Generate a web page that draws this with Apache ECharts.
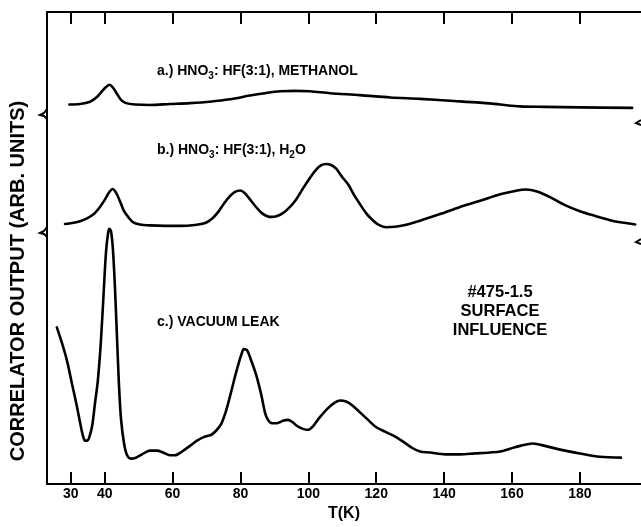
<!DOCTYPE html>
<html>
<head>
<meta charset="utf-8">
<script src="https://cdn.jsdelivr.net/npm/echarts@6/dist/echarts.min.js"></script>
<style>
html,body{margin:0;padding:0;background:#fff;}
#c{width:641px;height:527px;}
</style>
</head>
<body>
<div id="c"></div>
<script>
// Temperature tick labels (K)
var tickValues = [30, 40, 60, 80, 100, 120, 140, 160, 180];

// a.) HNO3:HF(3:1), Methanol  [T(K), arb. units]
var seriesA = [
  [29.6, 80.4], [32.7, 80.5], [35.7, 81.0], [37.7, 82.0], [39.2, 83.2],
  [40.4, 84.1], [41.4, 84.6], [42.4, 84.0], [43.6, 82.7], [44.8, 81.4],
  [46.3, 80.7], [48.9, 80.4], [53.3, 80.3], [59.2, 80.5], [65.1, 80.7],
  [71.0, 81.0], [76.9, 81.5], [82.8, 82.3], [87.2, 82.8], [91.7, 83.2],
  [96.1, 83.3], [100.5, 83.2], [106.4, 82.8], [115.2, 82.4], [124.1, 81.9],
  [132.9, 81.6], [141.7, 81.2], [150.6, 80.8], [156.5, 80.4], [162.4, 80.0],
  [169.7, 79.9], [180.0, 79.8], [195.4, 79.7]
];

// b.) HNO3:HF(3:1), H2O
var seriesB = [
  [28.3, 55.1], [30.4, 55.3], [32.7, 55.7], [34.8, 56.3], [36.8, 57.2],
  [38.6, 58.7], [40.1, 60.3], [41.3, 61.8], [42.3, 62.5], [43.3, 61.8],
  [44.5, 59.9], [45.7, 57.8], [46.9, 56.6], [48.3, 55.5], [50.4, 55.0],
  [53.3, 54.8], [57.8, 54.7], [62.2, 54.7], [66.6, 54.9], [69.6, 55.3],
  [71.6, 56.2], [73.4, 57.6], [75.2, 59.5], [76.9, 61.0], [78.4, 61.9],
  [79.9, 62.2], [81.3, 61.6], [82.8, 60.3], [84.6, 58.7], [86.3, 57.4],
  [88.1, 56.7], [89.3, 56.6], [90.8, 56.8], [92.5, 57.4], [94.3, 58.5],
  [96.4, 60.3], [98.4, 62.6], [100.5, 64.9], [102.3, 66.6], [103.7, 67.5],
  [105.2, 67.8], [106.7, 67.6], [108.2, 66.8], [109.9, 65.1], [111.7, 63.5],
  [113.5, 61.2], [115.2, 59.3], [117.0, 57.4], [118.8, 56.0], [120.5, 55.0],
  [122.9, 54.4], [125.5, 54.5], [128.5, 54.9], [132.9, 55.8], [138.8, 57.2],
  [144.7, 58.7], [150.6, 60.0], [156.5, 61.4], [160.9, 62.1], [164.1, 62.4],
  [167.4, 62.0], [171.2, 60.8], [175.6, 59.1], [180.0, 57.8], [184.5, 56.8],
  [188.9, 55.9], [192.4, 55.4], [196.3, 55.0]
];

// c.) Vacuum leak
var seriesC = [
  [25.9, 33.2], [27.4, 29.9], [28.9, 26.1], [30.4, 21.1], [31.8, 16.5],
  [32.7, 13.2], [33.6, 10.2], [34.2, 9.2], [34.8, 9.2], [35.4, 9.8],
  [36.3, 12.3], [37.1, 16.9], [38.0, 22.1], [38.9, 30.5], [39.8, 42.0],
  [40.4, 49.3], [41.0, 53.2], [41.4, 54.1], [41.9, 53.4], [42.4, 49.9],
  [43.0, 42.0], [43.6, 31.5], [44.2, 21.1], [44.8, 13.8], [45.7, 8.6],
  [46.6, 6.1], [47.7, 5.4], [49.2, 5.6], [51.0, 6.3], [53.3, 7.1],
  [55.4, 7.1], [57.2, 6.7], [59.2, 6.1], [60.7, 6.1], [62.8, 6.9],
  [65.1, 8.1], [67.2, 9.2], [69.3, 10.0], [71.3, 10.4], [72.8, 11.3],
  [74.3, 12.7], [75.7, 15.4], [77.2, 19.4], [78.7, 23.6], [80.2, 27.3],
  [81.0, 28.6], [81.9, 28.4], [83.1, 26.3], [84.6, 23.2], [86.1, 19.0],
  [87.2, 15.2], [88.1, 13.6], [89.3, 12.9], [90.8, 12.9], [92.5, 13.4],
  [94.0, 13.6], [95.2, 13.2], [96.7, 12.3], [98.4, 11.7], [99.9, 11.5],
  [101.4, 12.3], [103.4, 14.2], [105.8, 16.1], [107.9, 17.3], [109.3, 17.7],
  [111.1, 17.5], [112.9, 16.7], [115.2, 15.2], [117.6, 13.6], [119.9, 12.1],
  [122.6, 11.1], [125.2, 10.2], [127.9, 9.0], [130.5, 7.7], [132.9, 6.9],
  [135.8, 6.7], [140.3, 6.3], [144.7, 6.3], [149.1, 6.5], [153.5, 6.7],
  [156.5, 6.9], [159.4, 7.5], [162.4, 8.1], [166.2, 8.6], [169.7, 8.1],
  [174.2, 7.3], [180.0, 6.5], [185.9, 5.8], [192.1, 5.6]
];

var FONT = '"Liberation Sans", Arial, sans-serif';
var chart = echarts.init(document.getElementById('c'), null, {renderer: 'canvas'});

function lineSeries(data) {
  return {
    type: 'line', data: data, smooth: 0.3, symbol: 'none', silent: true,
    lineStyle: {color: '#000', width: 2.6, join: 'round', cap: 'round'}
  };
}

function breakMark(y) {
  return {type: 'polyline', shape: {points: [[47, y - 6], [44, y - 2], [40, y], [44, y + 1], [47, y + 4]]},
    style: {stroke: '#000', lineWidth: 2, fill: null}};
}
function rightMark(y) {
  return {type: 'polyline', shape: {points: [[641, y - 3], [636, y], [641, y + 2]]},
    style: {stroke: '#000', lineWidth: 2, fill: null}};
}
var richStyle = {
  n: {fontSize: 14, fontWeight: 'bold', fontFamily: FONT, color: '#000', lineHeight: 20, verticalAlign: 'middle'},
  s: {fontSize: 10, fontWeight: 'bold', fontFamily: FONT, color: '#000', lineHeight: 20, verticalAlign: 'bottom'}
};

var option = {
  backgroundColor: '#fff',
  animation: false,
  grid: {left: 47, right: 0, top: 12, bottom: 36, containLabel: false},
  xAxis: [{
    type: 'value', min: 23, max: 198, position: 'bottom',
    splitLine: {show: false},
    axisLine: {show: true, lineStyle: {color: '#000', width: 2}},
    axisTick: {show: true, inside: true, length: 12, customValues: tickValues, lineStyle: {color: '#000', width: 2}},
    axisLabel: {show: true, customValues: tickValues, margin: 3, color: '#000', fontSize: 14, fontWeight: 'bold', fontFamily: FONT},
    name: 'T(K)', nameLocation: 'middle', nameGap: 19,
    nameTextStyle: {color: '#000', fontSize: 16, fontWeight: 'bold', fontFamily: FONT}
  }, {
    type: 'value', min: 23, max: 198, position: 'top',
    splitLine: {show: false},
    axisLine: {show: true, lineStyle: {color: '#000', width: 2}},
    axisTick: {show: true, inside: true, length: 12, customValues: tickValues, lineStyle: {color: '#000', width: 2}},
    axisLabel: {show: false}
  }],
  yAxis: {
    type: 'value', min: 0, max: 100,
    splitLine: {show: false},
    axisLine: {show: true, lineStyle: {color: '#000', width: 2}},
    axisTick: {show: false},
    axisLabel: {show: false}
  },
  series: [lineSeries(seriesA), lineSeries(seriesB), lineSeries(seriesC)],
  graphic: [
    breakMark(115), breakMark(233), rightMark(123), rightMark(242),
    {type: 'text', x: 18, y: 281, rotation: Math.PI / 2,
      style: {text: 'CORRELATOR OUTPUT (ARB. UNITS)', fontSize: 20, fontWeight: 'bold', fontFamily: FONT,
        fill: '#000', align: 'center', verticalAlign: 'middle'}},
    {type: 'text', x: 157, y: 71,
      style: {text: '{n|a.) HNO}{s|3}{n|: HF(3:1), METHANOL}', rich: richStyle, verticalAlign: 'middle', align: 'left'}},
    {type: 'text', x: 157, y: 150,
      style: {text: '{n|b.) HNO}{s|3}{n|: HF(3:1), H}{s|2}{n|O}', rich: richStyle, verticalAlign: 'middle', align: 'left'}},
    {type: 'text', x: 157, y: 322,
      style: {text: '{n|c.) VACUUM LEAK}', rich: richStyle, verticalAlign: 'middle', align: 'left'}},
    {type: 'text', x: 500, y: 311,
      style: {text: '#475-1.5\nSURFACE\nINFLUENCE', fontSize: 16.5, fontWeight: 'bold', fontFamily: FONT,
        lineHeight: 19, fill: '#000', align: 'center', verticalAlign: 'middle'}}
  ]
};
chart.setOption(option);
</script>
</body>
</html>
